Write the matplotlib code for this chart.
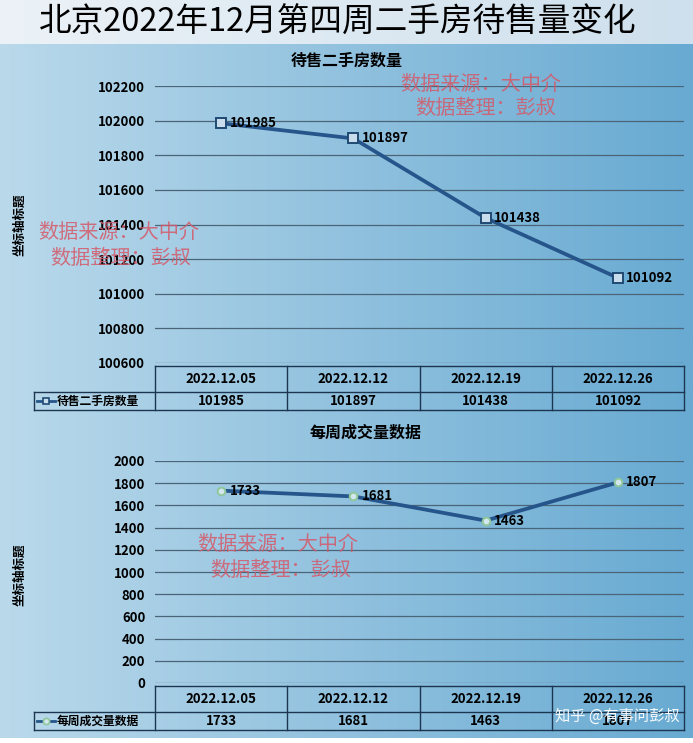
import numpy as np
import matplotlib.pyplot as plt

plt.rcParams['font.family'] = ['Noto Sans CJK SC', 'DejaVu Sans']

# 数据
dates = ['2022.12.05', '2022.12.12', '2022.12.19', '2022.12.26']
stock = [101985, 101897, 101438, 101092]
deals = [1733, 1681, 1463, 1807]
stock_name = '待售二手房数量'
deals_name = '每周成交量数据'
main_title = '北京2022年12月第四周二手房待售量变化'

W, H = 693, 743
fig = plt.figure(figsize=(W / 100, H / 100), dpi=100)


def fx(px):
    return px / W


def fy(py):
    return 1 - py / H


# 背景渐变
bg = fig.add_axes([0, 0, 1, 1], zorder=-10)
bg.axis('off')
t = np.linspace(0, 1, 256)[:, None]
c_left = np.array([186, 217, 235]) / 255
c_right = np.array([104, 170, 210]) / 255
img = c_left * (1 - t) + c_right * t
bg.imshow(img[None, :, :], extent=[0, W, H - 738, H - 44], aspect='auto')
b_left = np.array([236, 242, 247]) / 255
b_right = np.array([206, 224, 237]) / 255
band = b_left * (1 - t) + b_right * t
bg.imshow(band[None, :, :], extent=[0, W, H - 44, H], aspect='auto')
bg.set_xlim(0, W)
bg.set_ylim(0, H)

fig.text(fx(338), fy(23), main_title, fontsize=23.5, ha='center', va='center', color='black')

LINE_C = '#25558a'
COL_W = 529 / 4  # 每列像素宽


def chart(top_px, bot_px, vals, ymin, ymax, step, marker, mfc, mec, ms):
    ax = fig.add_axes([fx(155), fy(bot_px), fx(684) - fx(155), fy(top_px) - fy(bot_px)])
    ax.patch.set_alpha(0)
    x = np.arange(len(vals))
    ax.plot(x, vals, color=LINE_C, lw=2.7, marker=marker, ms=ms, mfc=mfc, mec=mec, mew=1.4, zorder=3)
    ax.set_xlim(-0.5, 3.5)
    ax.set_ylim(ymin, ymax)
    ax.set_yticks(np.arange(ymin, ymax + 1, step))
    ax.set_xticks([])
    ax.grid(axis='y', color='#4a6578', lw=0.9)
    for s in ax.spines.values():
        s.set_visible(False)
    ax.tick_params(length=0, labelsize=9.5, pad=7)
    for lab in ax.get_yticklabels():
        lab.set_fontweight('bold')
    for xi, v in zip(x, vals):
        ax.annotate(str(v), (xi, v), xytext=(6, 0), textcoords='offset points',
                    va='center', ha='left', fontsize=9.5, fontweight='bold', zorder=4)
    return ax


def table(top_px, vals, name, marker, mfc, mec, ms):
    hdr_h, row_h = 26, 18
    xl = -0.5 - 121 / COL_W
    tax = fig.add_axes([fx(34), fy(top_px + hdr_h + row_h), fx(684) - fx(34), (hdr_h + row_h) / H])
    tax.set_xlim(xl, 3.5)
    tax.set_ylim(0, hdr_h + row_h)
    tax.axis('off')
    ec = '#1c3550'
    kw = dict(color=ec, lw=1, clip_on=False)
    tax.plot([-0.5, 3.5], [hdr_h + row_h] * 2, **kw)
    tax.plot([xl, 3.5], [row_h] * 2, **kw)
    tax.plot([xl, 3.5], [0, 0], **kw)
    for b in [-0.5, 0.5, 1.5, 2.5, 3.5]:
        tax.plot([b, b], [0, hdr_h + row_h], **kw)
    tax.plot([xl, xl], [0, row_h], **kw)
    for i, (d, v) in enumerate(zip(dates, vals)):
        tax.text(i, row_h + hdr_h / 2, d, ha='center', va='center', fontsize=9.5, fontweight='bold')
        tax.text(i, row_h / 2, str(v), ha='center', va='center', fontsize=9.5, fontweight='bold')

    def px2x(px):
        return (px - 155) / COL_W - 0.5

    tax.plot([px2x(37), px2x(55)], [row_h / 2] * 2, color=LINE_C, lw=2, clip_on=False)
    tax.plot([px2x(46)], [row_h / 2], marker=marker, ms=ms, mfc=mfc, mec=mec, mew=1.2, clip_on=False)
    tax.text(px2x(57), row_h / 2, name, ha='left', va='center', fontsize=8.5, fontweight='bold')


# 上图
chart(86, 363, stock, 100600, 102200, 200, 's', '#c9dceb', '#1f4a73', 6.5)
fig.text(fx(347), fy(61), stock_name, fontsize=11.5, fontweight='bold', ha='center', va='center')
fig.text(fx(20), fy(225), '坐标轴标题', rotation=90, fontsize=9, fontweight='bold', ha='center', va='center')
table(366, stock, stock_name, 's', '#c9dceb', '#1f4a73', 5)

# 下图
chart(461, 683, deals, 0, 2000, 200, 'o', '#d2e8ee', '#8fc79a', 5.5)
fig.text(fx(366), fy(433), deals_name, fontsize=11.5, fontweight='bold', ha='center', va='center')
fig.text(fx(20), fy(575), '坐标轴标题', rotation=90, fontsize=9, fontweight='bold', ha='center', va='center')
table(686, deals, deals_name, 'o', '#d2e8ee', '#8fc79a', 4.5)

# 水印
wm = dict(fontsize=14.5, color='#d45a6a', alpha=0.85, ha='left', va='center')
for (x1, y1), (x2, y2) in [((400, 84), (415, 109)), ((38, 232), (50, 258)), ((197, 545), (210, 571))]:
    fig.text(fx(x1), fy(y1), '数据来源：大中介', **wm)
    fig.text(fx(x2), fy(y2), '数据整理：彭叔', **wm)

fig.text(fx(555), fy(716), '知乎 @有事问彭叔', fontsize=11, color='white', ha='left', va='center',
         alpha=0.95)

plt.savefig('out.png', dpi=100)
